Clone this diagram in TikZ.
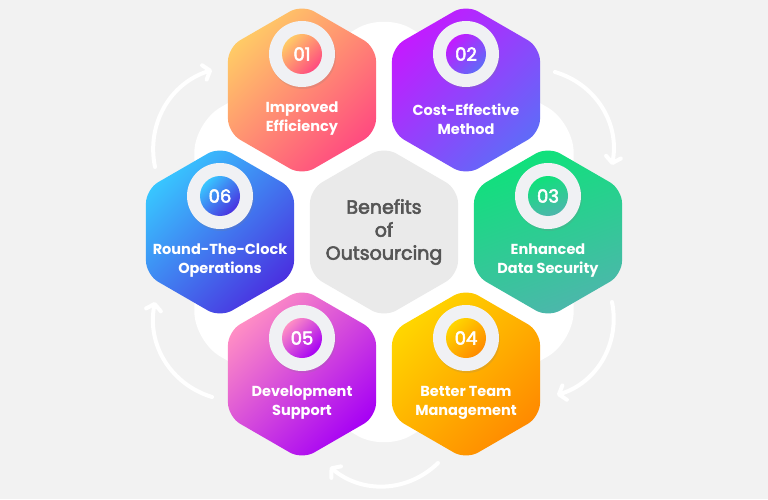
\documentclass[tikz,border=0pt]{standalone}
\usepackage{fontspec}
\setmainfont{Poppins}
\newfontfamily\medfont{Poppins}[FakeBold=3]
\usetikzlibrary{shapes.geometric,arrows.meta,shadows}

\definecolor{bgray}{HTML}{F2F2F2}
\definecolor{cgray}{HTML}{EAEAEA}
\definecolor{tgray}{HTML}{555555}
\definecolor{ringgray}{HTML}{F0F1F4}
\definecolor{oneA}{HTML}{FFCB66}
\definecolor{oneB}{HTML}{FF4A80}
\definecolor{twoA}{HTML}{C41AFF}
\definecolor{twoB}{HTML}{5F6BF8}
\definecolor{threeA}{HTML}{0EE27A}
\definecolor{threeB}{HTML}{4DB6AC}
\definecolor{fourA}{HTML}{FFD600}
\definecolor{fourB}{HTML}{FF8A00}
\definecolor{fiveA}{HTML}{FF8EC4}
\definecolor{fiveB}{HTML}{A600F5}
\definecolor{sixA}{HTML}{38C6FF}
\definecolor{sixB}{HTML}{4A30E0}

\begin{document}
\begin{tikzpicture}[x=1pt,y=1pt,
hexa/.style = {regular polygon, regular polygon sides=6, shape border rotate=30, minimum size=171pt, inner sep=0pt, rounded corners=14pt},
ring/.style = {circle, fill=ringgray, minimum size=66pt, inner sep=0pt, drop shadow={opacity=0.18, shadow xshift=1pt, shadow yshift=-2pt}},
num/.style = {circle, minimum size=40pt, inner sep=0pt, text=white, font=\medfont\fontsize{18}{18}\selectfont},
lbl/.style = {text=white, align=center, font=\bfseries\fontsize{14.5}{19}\selectfont},
cyc/.style = {draw=white, line width=4pt, line cap=round, -{Straight Barb[length=6pt,width=15pt,round]}},
c1/.style = {top color=oneA, bottom color=oneB, shading angle=45},
c2/.style = {top color=twoA, bottom color=twoB, shading angle=45},
c3/.style = {top color=threeA, bottom color=threeB, shading angle=20},
c4/.style = {top color=fourA, bottom color=fourB, shading angle=45},
c5/.style = {top color=fiveA, bottom color=fiveB, shading angle=45},
c6/.style = {top color=sixA, bottom color=sixB, shading angle=45},
]
\fill[bgray] (0,0) rectangle (768,499);
\useasboundingbox (0,0) rectangle (768,499);

\node (bg) at (384,267)[hexa, minimum size=438pt, rounded corners=30pt, fill=white] {};

\coordinate (a1s) at (155,332);
\coordinate (a1e) at (212,429);
\coordinate (a2s) at (555,427);
\coordinate (a2e) at (612,334);
\coordinate (a3s) at (612,197);
\coordinate (a3e) at (557,104);
\coordinate (a4s) at (438,36);
\coordinate (a4e) at (330,32);
\coordinate (a5s) at (212,102);
\coordinate (a5e) at (155,197);
\draw[cyc] (a1s) to[bend left=42] (a1e);
\draw[cyc] (a2s) to[bend left=42] (a2e);
\draw[cyc] (a3s) to[bend left=42] (a3e);
\draw[cyc] (a4s) to[bend left=42] (a4e);
\draw[cyc] (a5s) to[bend left=42] (a5e);

\node (ctr) at (384,267)[hexa, fill=cgray] {};
\node (h1) at (302,409)[hexa, c1] {};
\node (h2) at (466,409)[hexa, c2] {};
\node (h3) at (548,267)[hexa, c3] {};
\node (h4) at (466,125)[hexa, c4] {};
\node (h5) at (302,125)[hexa, c5] {};
\node (h6) at (220,267)[hexa, c6] {};

\node (r1) at (302,445)[ring] {};
\node (r2) at (466,445)[ring] {};
\node (r3) at (548,303)[ring] {};
\node (r4) at (466,161)[ring] {};
\node (r5) at (302,161)[ring] {};
\node (r6) at (220,303)[ring] {};
\node (n1) at (r1)[num, c1] {01};
\node (n2) at (r2)[num, c2] {02};
\node (n3) at (r3)[num, c3] {03};
\node (n4) at (r4)[num, c4] {04};
\node (n5) at (r5)[num, c5] {05};
\node (n6) at (r6)[num, c6] {06};

\node (l1) at (302,380)[lbl] {Improved\\Efficiency};
\node (l2) at (466,380)[lbl] {Cost-Effective\\Method};
\node (l3) at (548,238)[lbl] {Enhanced\\Data Security};
\node (l4) at (466,96)[lbl] {Better Team\\Management};
\node (l5) at (302,96)[lbl] {Development\\Support};
\node (l6) at (220,238)[lbl] {Round-The-Clock\\Operations};
\node (title) at (384,267)[text=tgray, align=center, font=\medfont\fontsize{19}{23}\selectfont] {Benefits\\of\\Outsourcing};
\end{tikzpicture}
\end{document}
